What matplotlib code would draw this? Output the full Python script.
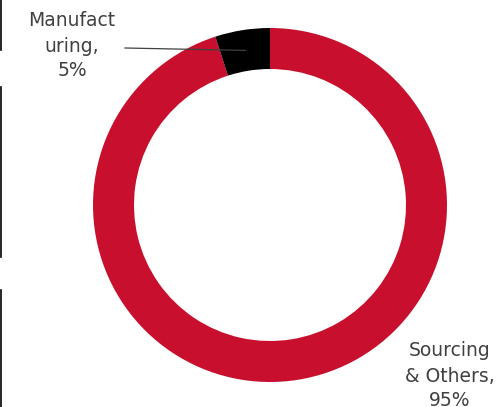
import math
import matplotlib
matplotlib.use("Agg")
from matplotlib import pyplot as plt
from matplotlib.lines import Line2D

labels = ["Sourcing\n& Others,\n95%", "Manufact\nuring,\n5%"]
values = [95, 5]
colors = ["#C8102E", "#000000"]

W, H = 498, 407
fig = plt.figure(figsize=(W / 100, H / 100), dpi=100)
ax = fig.add_axes([0, 0, 1, 1])

cx, cy = 270, 202   # centre in pixels (y up)
R = 177
ring = 41

wedges, _ = ax.pie(values, colors=colors, startangle=90, counterclock=False,
                   radius=R, center=(cx, cy), frame=True,
                   wedgeprops=dict(width=ring, edgecolor="none"))
ax.set_xlim(0, W)
ax.set_ylim(0, H)
ax.set_aspect("equal")
ax.axis("off")

txt = "#404040"
ax.text(72, 361, labels[1], ha="center", va="center", fontsize=13.5,
        color=txt, linespacing=1.4)
ax.text(450, 31, labels[0], ha="center", va="center", fontsize=13.5,
        color=txt, linespacing=1.4, clip_on=False)

# leader line to the middle of the small slice
ang = math.radians(90 + 0.5 * values[1] * 3.6)
r = R - ring / 2
ax.plot([125, cx + r * math.cos(ang)], [359, cy + r * math.sin(ang)],
        color="#404040", lw=0.9)

# thin black marks on the left edge
for y0, y1 in [(0, 50), (87, 257), (290, 407)]:
    fig.add_artist(Line2D([1 / W, 1 / W], [1 - y0 / H, 1 - y1 / H],
                          color="black", lw=1.2))

fig.savefig("out.png", dpi=100)
